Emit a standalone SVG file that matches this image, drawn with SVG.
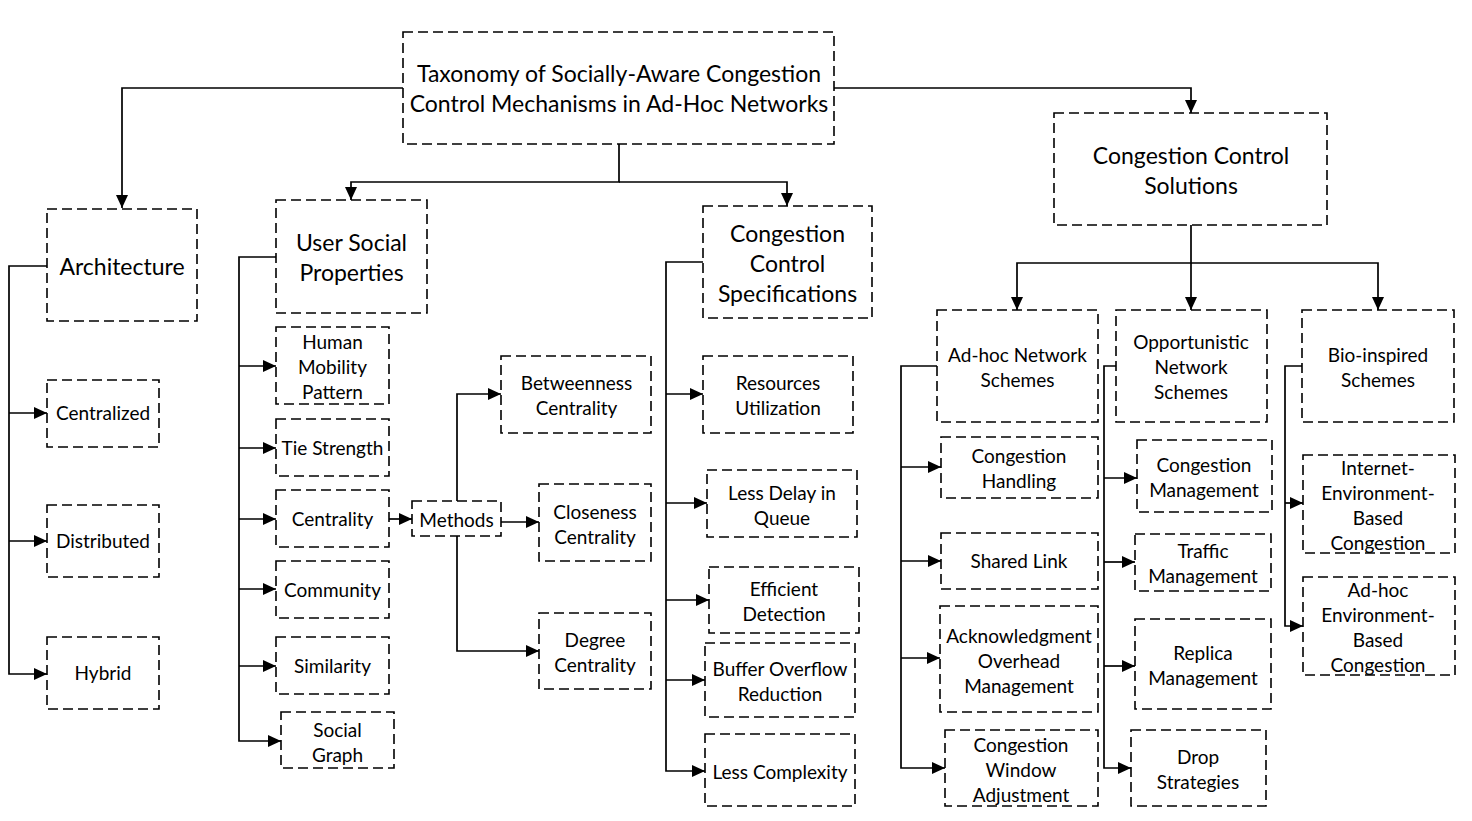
<svg xmlns="http://www.w3.org/2000/svg" width="1472" height="821" viewBox="0 0 1472 821">
<style>
.b{fill:#fff;stroke:#000;stroke-width:1.6;stroke-dasharray:10 5}
.t{font-family:Lato,"Liberation Sans",sans-serif;font-size:19px;text-anchor:middle;fill:#000}
.h{font-size:23px}
.r{font-size:23px}
.c path{fill:none;stroke:#000;stroke-width:1.7}
</style>
<defs>
<marker id="a" markerWidth="13" markerHeight="12" refX="13" refY="6" orient="auto" markerUnits="userSpaceOnUse"><path d="M0,0 L13,6 L0,12 z" fill="#000"/></marker>
</defs>
<rect width="1472" height="821" fill="#fff"/>
<g id="connectors" class="c">
<path d="M403,88 H122 V208" marker-end="url(#a)"/>
<path d="M619,144 V182 H351 V200" marker-end="url(#a)"/>
<path d="M619,182 H787 V206" marker-end="url(#a)"/>
<path d="M834,88 H1191 V113" marker-end="url(#a)"/>
<path d="M47,266 H9 V674 H47" marker-end="url(#a)"/>
<path d="M9,413 H47" marker-end="url(#a)"/>
<path d="M9,541 H47" marker-end="url(#a)"/>
<path d="M276,257 H239 V741 H281" marker-end="url(#a)"/>
<path d="M239,366 H276" marker-end="url(#a)"/>
<path d="M239,448 H276" marker-end="url(#a)"/>
<path d="M239,519 H276" marker-end="url(#a)"/>
<path d="M239,589 H276" marker-end="url(#a)"/>
<path d="M239,666 H276" marker-end="url(#a)"/>
<path d="M389,519 H412" marker-end="url(#a)"/>
<path d="M457,501 V394 H501" marker-end="url(#a)"/>
<path d="M501,522 H539" marker-end="url(#a)"/>
<path d="M457,536 V651 H539" marker-end="url(#a)"/>
<path d="M703,262 H666 V771 H705" marker-end="url(#a)"/>
<path d="M666,394 H703" marker-end="url(#a)"/>
<path d="M666,503 H707" marker-end="url(#a)"/>
<path d="M666,600 H709" marker-end="url(#a)"/>
<path d="M666,680 H705" marker-end="url(#a)"/>
<path d="M1191,225 V263 H1017 V310" marker-end="url(#a)"/>
<path d="M1191,263 V310" marker-end="url(#a)"/>
<path d="M1191,263 H1378 V310" marker-end="url(#a)"/>
<path d="M937,366 H901 V768 H945" marker-end="url(#a)"/>
<path d="M901,467 H941" marker-end="url(#a)"/>
<path d="M901,561 H941" marker-end="url(#a)"/>
<path d="M901,658 H940" marker-end="url(#a)"/>
<path d="M1116,366 H1104 V768 H1131" marker-end="url(#a)"/>
<path d="M1104,478 H1137" marker-end="url(#a)"/>
<path d="M1104,562 H1135" marker-end="url(#a)"/>
<path d="M1104,666 H1135" marker-end="url(#a)"/>
<path d="M1302,366 H1285 V626 H1303" marker-end="url(#a)"/>
<path d="M1285,503 H1303" marker-end="url(#a)"/>
</g>
<g id="root"><rect class="b" x="403" y="32" width="431" height="112"/><text class="t r" x="619" y="81.5">Taxonomy of Socially-Aware Congestion</text><text class="t r" x="619" y="111.5">Control Mechanisms in Ad-Hoc Networks</text></g>
<g id="architecture"><rect class="b" x="47" y="209" width="150" height="112"/><text class="t h" x="122" y="274.5">Architecture</text></g>
<g id="centralized"><rect class="b" x="47" y="380" width="112" height="67"/><text class="t" x="103" y="420">Centralized</text></g>
<g id="distributed"><rect class="b" x="47" y="505" width="112" height="72"/><text class="t" x="103" y="548">Distributed</text></g>
<g id="hybrid"><rect class="b" x="47" y="637" width="112" height="72"/><text class="t" x="103" y="680">Hybrid</text></g>
<g id="user-social"><rect class="b" x="276" y="200" width="151" height="113"/><text class="t h" x="351.5" y="250.5">User Social</text><text class="t h" x="351.5" y="280.5">Properties</text></g>
<g id="human-mobility"><rect class="b" x="276" y="327" width="113" height="77"/><text class="t" x="332.5" y="349">Human</text><text class="t" x="332.5" y="374">Mobility</text><text class="t" x="332.5" y="399">Pattern</text></g>
<g id="tie-strength"><rect class="b" x="276" y="419" width="113" height="57"/><text class="t" x="332.5" y="455">Tie Strength</text></g>
<g id="centrality"><rect class="b" x="276" y="490" width="113" height="57"/><text class="t" x="332.5" y="526">Centrality</text></g>
<g id="community"><rect class="b" x="276" y="561" width="113" height="57"/><text class="t" x="332.5" y="597">Community</text></g>
<g id="similarity"><rect class="b" x="276" y="637" width="113" height="57"/><text class="t" x="332.5" y="673">Similarity</text></g>
<g id="social-graph"><rect class="b" x="281" y="712" width="113" height="56"/><text class="t" x="337.5" y="737">Social</text><text class="t" x="337.5" y="762">Graph</text></g>
<g id="methods"><rect class="b" x="412" y="501" width="89" height="35"/><text class="t" x="456.5" y="527">Methods</text></g>
<g id="betweenness"><rect class="b" x="501" y="356" width="150" height="77"/><text class="t" x="576.5" y="390">Betweenness</text><text class="t" x="576.5" y="415">Centrality</text></g>
<g id="closeness"><rect class="b" x="539" y="484" width="112" height="77"/><text class="t" x="595" y="519">Closeness</text><text class="t" x="595" y="544">Centrality</text></g>
<g id="degree"><rect class="b" x="539" y="613" width="112" height="76"/><text class="t" x="595" y="647">Degree</text><text class="t" x="595" y="672">Centrality</text></g>
<g id="cc-specs"><rect class="b" x="703" y="206" width="169" height="112"/><text class="t h" x="787.5" y="241.5">Congestion</text><text class="t h" x="787.5" y="271.5">Control</text><text class="t h" x="787.5" y="301.5">Specifications</text></g>
<g id="resources"><rect class="b" x="703" y="356" width="150" height="77"/><text class="t" x="778" y="390">Resources</text><text class="t" x="778" y="415">Utilization</text></g>
<g id="less-delay"><rect class="b" x="707" y="470" width="150" height="67"/><text class="t" x="782" y="500">Less Delay in</text><text class="t" x="782" y="525">Queue</text></g>
<g id="efficient"><rect class="b" x="709" y="567" width="150" height="66"/><text class="t" x="784" y="595.5">Efficient</text><text class="t" x="784" y="620.5">Detection</text></g>
<g id="buffer"><rect class="b" x="705" y="643" width="150" height="74"/><text class="t" x="780" y="675.5">Buffer Overflow</text><text class="t" x="780" y="700.5">Reduction</text></g>
<g id="less-complexity"><rect class="b" x="705" y="734" width="150" height="72"/><text class="t" x="780" y="778.5">Less Complexity</text></g>
<g id="cc-solutions"><rect class="b" x="1054" y="113" width="273" height="112"/><text class="t h" x="1191" y="163.5">Congestion Control</text><text class="t h" x="1191" y="193.5">Solutions</text></g>
<g id="adhoc-network"><rect class="b" x="937" y="310" width="161" height="112"/><text class="t" x="1017.5" y="361.5">Ad-hoc Network</text><text class="t" x="1017.5" y="386.5">Schemes</text></g>
<g id="opportunistic"><rect class="b" x="1116" y="310" width="151" height="112"/><text class="t" x="1191" y="349">Opportunistic</text><text class="t" x="1191" y="374">Network</text><text class="t" x="1191" y="399">Schemes</text></g>
<g id="bio-inspired"><rect class="b" x="1302" y="310" width="152" height="112"/><text class="t" x="1378" y="361.5">Bio-inspired</text><text class="t" x="1378" y="386.5">Schemes</text></g>
<g id="cong-handling"><rect class="b" x="941" y="437" width="157" height="61"/><text class="t" x="1019" y="463">Congestion</text><text class="t" x="1019" y="488">Handling</text></g>
<g id="shared-link"><rect class="b" x="941" y="533" width="157" height="56"/><text class="t" x="1019" y="568">Shared Link</text></g>
<g id="ack"><rect class="b" x="940" y="606" width="158" height="106"/><text class="t" x="1019" y="643">Acknowledgment</text><text class="t" x="1019" y="668">Overhead</text><text class="t" x="1019" y="693">Management</text></g>
<g id="cwa"><rect class="b" x="945" y="730" width="153" height="76"/><text class="t" x="1021" y="752">Congestion</text><text class="t" x="1021" y="777">Window</text><text class="t" x="1021" y="802">Adjustment</text></g>
<g id="cong-mgmt"><rect class="b" x="1137" y="440" width="135" height="72"/><text class="t" x="1204" y="472">Congestion</text><text class="t" x="1204" y="497">Management</text></g>
<g id="traffic"><rect class="b" x="1135" y="534" width="136" height="57"/><text class="t" x="1203" y="558">Traffic</text><text class="t" x="1203" y="583">Management</text></g>
<g id="replica"><rect class="b" x="1135" y="619" width="136" height="90"/><text class="t" x="1203" y="660">Replica</text><text class="t" x="1203" y="685">Management</text></g>
<g id="drop"><rect class="b" x="1131" y="730" width="135" height="76"/><text class="t" x="1198" y="764">Drop</text><text class="t" x="1198" y="789">Strategies</text></g>
<g id="internet-env"><rect class="b" x="1303" y="455" width="152" height="98"/><text class="t" x="1378" y="475">Internet-</text><text class="t" x="1378" y="500">Environment-</text><text class="t" x="1378" y="525">Based</text><text class="t" x="1378" y="550">Congestion</text></g>
<g id="adhoc-env"><rect class="b" x="1303" y="577" width="152" height="98"/><text class="t" x="1378" y="597">Ad-hoc</text><text class="t" x="1378" y="622">Environment-</text><text class="t" x="1378" y="647">Based</text><text class="t" x="1378" y="672">Congestion</text></g>
</svg>
